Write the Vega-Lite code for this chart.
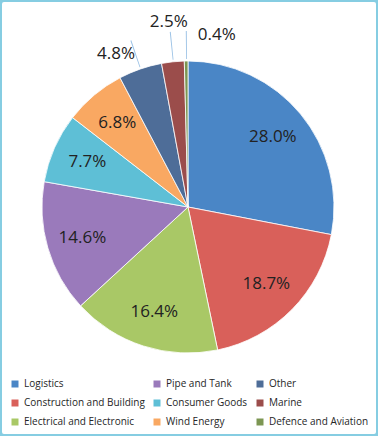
{
  "$schema": "https://vega.github.io/schema/vega-lite/v6.json",
  "width": 378,
  "height": 436,
  "padding": 0,
  "autosize": {"type": "none"},
  "background": "white",
  "config": {
    "view": {"stroke": null},
    "font": "Open Sans"
  },
  "datasets": {
    "pie": [
      {"k": 1, "sector": "Logistics", "share": 0.280},
      {"k": 2, "sector": "Construction and Building", "share": 0.187},
      {"k": 3, "sector": "Electrical and Electronic", "share": 0.164},
      {"k": 4, "sector": "Pipe and Tank", "share": 0.146},
      {"k": 5, "sector": "Consumer Goods", "share": 0.077},
      {"k": 6, "sector": "Wind Energy", "share": 0.068},
      {"k": 7, "sector": "Other", "share": 0.048},
      {"k": 8, "sector": "Marine", "share": 0.025},
      {"k": 9, "sector": "Defence and Aviation", "share": 0.004}
    ],
    "frame": [{"b": 1}]
  },
  "data": {"name": "pie"},
  "layer": [
    {
      "data": {"name": "frame"},
      "mark": {"type": "rect", "fill": "white", "fillOpacity": 0, "stroke": "#86cde2", "strokeWidth": 4, "cornerRadius": 4}
    },
    {
      "mark": {"type": "arc", "outerRadius": 146, "stroke": "white", "strokeWidth": 0.8, "xOffset": -1, "yOffset": -11},
      "encoding": {
        "theta": {"field": "share", "type": "quantitative", "stack": true},
        "order": {"field": "k", "type": "quantitative"},
        "color": {
          "field": "sector",
          "type": "nominal",
          "scale": {
            "domain": ["Logistics", "Construction and Building", "Electrical and Electronic", "Pipe and Tank", "Consumer Goods", "Wind Energy", "Other", "Marine", "Defence and Aviation"],
            "range": ["#4a86c6", "#d9605a", "#a9c866", "#9a7abb", "#5ebfd6", "#f9a862", "#4e6d98", "#9b4d4b", "#7c9653"]
          },
          "legend": {
            "title": null,
            "orient": "none",
            "legendX": 10,
            "legendY": 379,
            "columns": 3,
            "columnPadding": 7,
            "rowPadding": 9,
            "symbolType": "square",
            "symbolSize": 49,
            "symbolStrokeWidth": 0,
            "labelFontSize": 10,
            "labelColor": "#262626",
            "labelOffset": 4,
            "labelLimit": 200
          }
        }
      }
    },
    {
      "transform": [
        {"window": [{"op": "sum", "field": "share", "as": "cum"}], "sort": [{"field": "k"}], "frame": [null, 0]},
        {"calculate": "datum.cum - datum.share / 2", "as": "mid"},
        {"calculate": "datum.mid + 0.0009", "as": "mid2"},
        {"filter": "datum.share < 0.06"}
      ],
      "mark": {"type": "arc", "radius": 148, "radius2": 176, "fill": "#9dc3e6", "xOffset": -1, "yOffset": -11},
      "encoding": {
        "theta": {"field": "mid", "type": "quantitative", "stack": null},
        "theta2": {"field": "mid2"}
      }
    },
    {
      "transform": [
        {"window": [{"op": "sum", "field": "share", "as": "cum"}], "sort": [{"field": "k"}], "frame": [null, 0]},
        {"calculate": "datum.cum - datum.share / 2", "as": "mid"},
        {"filter": "datum.share > 0.06"}
      ],
      "mark": {"type": "text", "radius": 110, "fontSize": 17, "color": "#222222", "xOffset": -1, "yOffset": -11},
      "encoding": {
        "theta": {"field": "mid", "type": "quantitative", "stack": null},
        "text": {"field": "share", "type": "quantitative", "format": ".1%"}
      }
    },
    {
      "transform": [
        {"window": [{"op": "sum", "field": "share", "as": "cum"}], "sort": [{"field": "k"}], "frame": [null, 0]},
        {"calculate": "datum.cum - datum.share / 2", "as": "mid"},
        {"filter": "datum.sector == 'Other'"}
      ],
      "mark": {"type": "text", "radius": 162, "align": "right", "fontSize": 17, "color": "#222222", "xOffset": -1, "yOffset": -11},
      "encoding": {
        "theta": {"field": "mid", "type": "quantitative", "stack": null},
        "text": {"field": "share", "type": "quantitative", "format": ".1%"}
      }
    },
    {
      "transform": [
        {"window": [{"op": "sum", "field": "share", "as": "cum"}], "sort": [{"field": "k"}], "frame": [null, 0]},
        {"calculate": "datum.cum - datum.share / 2", "as": "mid"},
        {"filter": "datum.sector == 'Marine'"}
      ],
      "mark": {"type": "text", "radius": 186, "fontSize": 17, "color": "#222222", "xOffset": -1, "yOffset": -11},
      "encoding": {
        "theta": {"field": "mid", "type": "quantitative", "stack": null},
        "text": {"field": "share", "type": "quantitative", "format": ".1%"}
      }
    },
    {
      "transform": [
        {"window": [{"op": "sum", "field": "share", "as": "cum"}], "sort": [{"field": "k"}], "frame": [null, 0]},
        {"calculate": "datum.cum - datum.share / 2", "as": "mid"},
        {"filter": "datum.sector == 'Defence and Aviation'"}
      ],
      "mark": {"type": "text", "radius": 172, "align": "left", "dx": 12, "fontSize": 17, "color": "#222222", "xOffset": -1, "yOffset": -11},
      "encoding": {
        "theta": {"field": "mid", "type": "quantitative", "stack": null},
        "text": {"field": "share", "type": "quantitative", "format": ".1%"}
      }
    }
  ]
}
